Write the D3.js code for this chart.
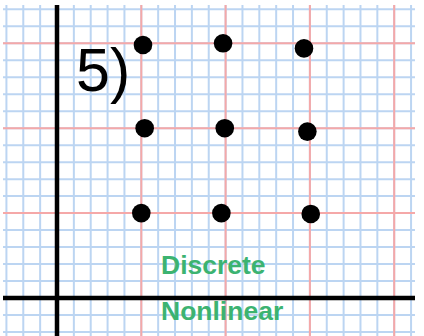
<!DOCTYPE html>
<html>
<head>
<meta charset="utf-8">
<script src="https://cdn.jsdelivr.net/npm/d3@7"></script>
<style>
  html, body { margin: 0; padding: 0; background: #fff; }
  svg { display: block; }
</style>
</head>
<body>
<svg id="chart" width="424" height="336"></svg>
<script>
// Data (in graph-paper major units: 1 unit = 5 small squares)
const pointX = [1.02, 1.97, 2.93, 1.04, 1.99, 2.97, 1.00, 1.95, 3.01];
const pointY = [2.98, 3.00, 2.94, 2.00, 2.00, 1.96, 1.00, 1.00, 0.99];
const problemLabel = ["5)"];
const typeLabels = ["Discrete", "Nonlinear"];

const svg = d3.select("#chart");
const x = d3.scaleLinear().domain([0, 1]).range([57, 141.3]);
const y = d3.scaleLinear().domain([0, 1]).range([298, 213.1]);

const minorX = d3.range(-3, 22).map(i => i / 5);   // -0.6 .. 4.2
const minorY = d3.range(-2, 18).map(i => i / 5);   // -0.4 .. 3.4
const majorX = [1, 2, 3, 4];
const majorY = [1, 2, 3];

const blue = "#bcd5f2", red = "#f5a8a8";
const gx0 = 3, gx1 = 415, gy0 = 5, gy1 = 336;

// minor grid
svg.append("g").selectAll("line").data(minorX).join("line")
  .attr("x1", d => x(d)).attr("x2", d => x(d))
  .attr("y1", gy0).attr("y2", gy1)
  .attr("stroke", blue).attr("stroke-width", 2);
svg.append("g").selectAll("line").data(minorY).join("line")
  .attr("y1", d => y(d)).attr("y2", d => y(d))
  .attr("x1", gx0).attr("x2", gx1)
  .attr("stroke", blue).attr("stroke-width", 2);

// major grid
svg.append("g").selectAll("line").data(majorX).join("line")
  .attr("x1", d => x(d)).attr("x2", d => x(d))
  .attr("y1", gy0).attr("y2", gy1)
  .attr("stroke", red).attr("stroke-width", 2);
svg.append("g").selectAll("line").data(majorY).join("line")
  .attr("y1", d => y(d)).attr("y2", d => y(d))
  .attr("x1", gx0).attr("x2", gx1)
  .attr("stroke", red).attr("stroke-width", 2);

// axes
svg.append("line")
  .attr("x1", x(0)).attr("x2", x(0)).attr("y1", gy0).attr("y2", gy1)
  .attr("stroke", "#000").attr("stroke-width", 4.5);
svg.append("line")
  .attr("y1", y(0)).attr("y2", y(0)).attr("x1", gx0).attr("x2", gx1)
  .attr("stroke", "#000").attr("stroke-width", 4.5);

// points
svg.append("g").selectAll("circle").data(pointX.map((d, i) => [d, pointY[i]])).join("circle")
  .attr("cx", d => x(d[0])).attr("cy", d => y(d[1]))
  .attr("r", 9.3).attr("fill", "#000");

// labels
svg.append("text")
  .attr("x", 76).attr("y", 91)
  .attr("font-family", "Liberation Sans, Arial, sans-serif")
  .attr("font-size", 61).attr("fill", "#000")
  .text(problemLabel[0]);

svg.append("g").selectAll("text").data(typeLabels).join("text")
  .attr("x", 161).attr("y", (d, i) => [274, 320][i])
  .attr("font-family", "Liberation Sans, Arial, sans-serif")
  .attr("font-weight", "bold").attr("font-size", 26.5)
  .attr("fill", "#3cb371")
  .text(d => d);
</script>
</body>
</html>
